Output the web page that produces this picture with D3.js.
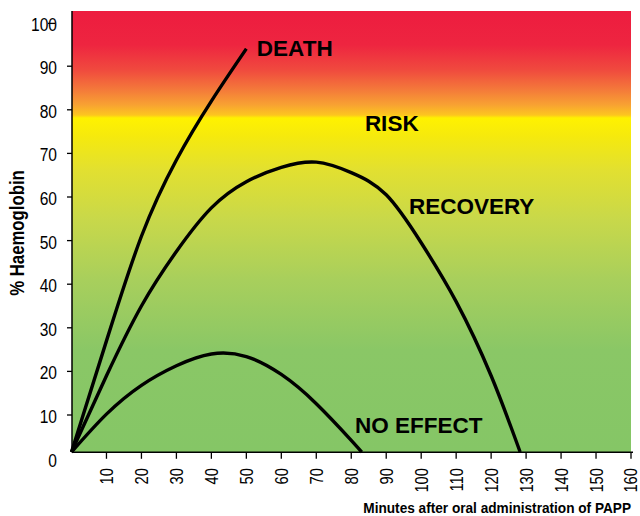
<!DOCTYPE html>
<html lang="en">
	<head>
		<meta charset="utf-8">
		<title>PAPP haemoglobin chart</title>
		<script src="https://cdn.jsdelivr.net/npm/d3@7"></script>
		<style type="text/css">
			body { margin: 0; background: white; }
			text { font-family: "Liberation Sans Narrow", "Liberation Sans", Arial, sans-serif; }
		</style>
	</head>
	<body>
		<script type="text/javascript" charset="utf-8">

		//data (minutes, % haemoglobin)
		var death = [[0,1.5],[10,27],[20,51],[30,68.5],[40,82],[50,94]]
		var recovery = [[0,1.5],[10,19],[20,35],[30,47.5],[40,57.5],[50,63.5],[60,66.8],[70,68],[80,65.6],[90,60.5],[100,49.5],[110,36],[120,19],[128.3,1.5]]
		var noEffect = [[0,1.5],[10,10.2],[20,16.8],[30,21.3],[40,24],[50,23.4],[60,19.3],[70,12.6],[80,4.2],[83,1.5]]

		var zoneLabels = ["DEATH", "RISK", "RECOVERY", "NO EFFECT"]
		var zoneAt = [[53,92.3],[83.9,75.1],[96.5,56.1],[81.1,5.9]]   // minutes, %

		var xTicks = d3.range(10, 161, 10)
		var yTicks = d3.range(0, 101, 10)

		var width = 640, height = 516
		var plotTop = 11, plotBottom = 452.3, plotLeft = 72, plotRight = 631
		var narrow = 0.82   // no condensed font here, so squeeze the axis text

		var x = d3.scaleLinear().domain([0,160]).range([71.5,631])
		var y = d3.scaleLinear().domain([0,100]).range([458.6,22.6])

		var svg = d3.select("body").append("svg").attr("width",width).attr("height",height)

		////////////////////////// background gradient //////////////////////////
		var stops = [
			[11,"#ED1C3F"],[45,"#EE2540"],[70,"#F04A3E"],[90,"#F47A3A"],[105,"#F8A232"],
			[115,"#FDC51F"],[118,"#FFF200"],[135,"#F6EA0C"],[170,"#E2E030"],[220,"#C8D84A"],
			[280,"#A8CF5C"],[350,"#8AC766"],[452,"#85C666"]
		]
		var grad = svg.append("defs").append("linearGradient")
			.attr("id","bg")
			.attr("gradientUnits","userSpaceOnUse")
			.attr("x1",0).attr("x2",0).attr("y1",plotTop).attr("y2",plotBottom)
		grad.selectAll("stop").data(stops).enter().append("stop")
			.attr("offset", function(d){ return (d[0]-plotTop)/(plotBottom-plotTop) })
			.attr("stop-color", function(d){ return d[1] })

		svg.append("rect")
			.attr("x",plotLeft).attr("y",plotTop)
			.attr("width",plotRight-plotLeft).attr("height",plotBottom-plotTop)
			.attr("fill","url(#bg)")

		////////////////////////// curves //////////////////////////
		var line = d3.line()
			.x(function(d){ return x(d[0]) })
			.y(function(d){ return y(d[1]) })
			.curve(d3.curveNatural)

		svg.selectAll("path.curve").data([death, recovery, noEffect]).enter().append("path")
			.attr("class","curve")
			.attr("d", line)
			.attr("fill","none")
			.attr("stroke","black")
			.attr("stroke-width",3.4)
			.attr("stroke-linecap","butt")

		svg.selectAll("text.zone").data(zoneLabels).enter().append("text")
			.attr("class","zone")
			.attr("x", function(d,i){ return x(zoneAt[i][0]) })
			.attr("y", function(d,i){ return y(zoneAt[i][1]) })
			.style("font-family","'Liberation Sans', Arial, sans-serif")
			.style("font-weight","bold")
			.style("font-size","22.5px")
			.attr("fill","black")
			.text(function(d){ return d })

		////////////////////////// axes //////////////////////////
		// x axis
		svg.append("line")
			.attr("x1",plotLeft).attr("x2",633)
			.attr("y1",plotBottom).attr("y2",plotBottom)
			.attr("stroke","black").attr("stroke-width",1.5)

		var xg = svg.selectAll("g.xtick").data(xTicks).enter().append("g")
			.attr("class","xtick")
			.attr("transform", function(d){ return "translate(" + x(d) + ",0)" })
		xg.append("line")
			.attr("y1",plotBottom).attr("y2",plotBottom+6.5)
			.attr("stroke","black").attr("stroke-width",1.3)
		xg.append("text")
			.attr("transform","translate(0,468) rotate(-90) scale(" + narrow + ",1)")
			.attr("text-anchor","end")
			.attr("dy","0.36em")
			.style("font-size","18px")
			.text(function(d){ return d })

		// y axis
		svg.append("line")
			.attr("x1",plotLeft).attr("x2",plotLeft)
			.attr("y1",plotTop).attr("y2",plotBottom)
			.attr("stroke","black").attr("stroke-width",1.5)

		var yg = svg.selectAll("g.ytick").data(yTicks).enter().append("g")
			.attr("class","ytick")
			.attr("transform", function(d){ return "translate(0," + y(d) + ")" })
		// the 0 tick is hidden under the x axis, the 100 tick got shoved onto its label
		yg.filter(function(d){ return d > 0 }).append("line")
			.attr("x1", function(d){ return d == 100 ? 48 : 67 })
			.attr("x2", function(d){ return d == 100 ? 55 : plotLeft })
			.attr("y1", function(d){ return d == 100 ? 0.8 : 0 })
			.attr("y2", function(d){ return d == 100 ? 0.8 : 0 })
			.attr("stroke","black").attr("stroke-width",1.3)
		yg.append("text")
			.attr("transform","translate(57,0) scale(" + narrow + ",1)")
			.attr("dy","0.42em")
			.attr("text-anchor","end")
			.style("font-size","19px")
			.text(function(d){ return d })

		// titles
		svg.append("text")
			.attr("transform","translate(631,513) scale(0.88,1)")
			.attr("text-anchor","end")
			.style("font-weight","bold")
			.style("font-size","15.5px")
			.text("Minutes after oral administration of PAPP")

		svg.append("text")
			.attr("transform","translate(24,233) rotate(-90) scale(0.86,1)")
			.attr("text-anchor","middle")
			.style("font-weight","bold")
			.style("font-size","19.5px")
			.text("% Haemoglobin")

		</script>
	</body>
</html>
